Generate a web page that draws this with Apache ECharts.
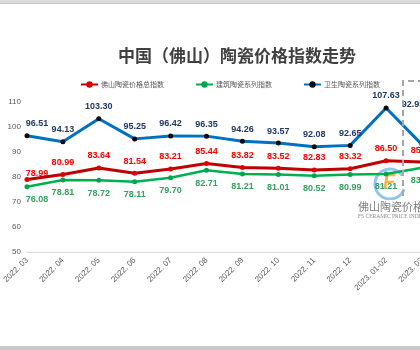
<!DOCTYPE html>
<html>
<head>
<meta charset="utf-8">
<script src="https://cdn.jsdelivr.net/npm/echarts@6/dist/echarts.min.js"></script>
<style>
html,body{margin:0;padding:0;background:#fff;overflow:hidden;width:420px;height:350px;}
#c{width:474px;height:350px;}
</style>
</head>
<body>
<div id="c"></div>
<script>
var categories = ['2022. 03','2022. 04','2022. 05','2022. 06','2022. 07','2022. 08','2022. 09','2022. 10','2022. 11','2022. 12','2023. 01-02','2023. 03'];
var totalIndex = [78.99, 80.99, 83.64, 81.54, 83.21, 85.44, 83.82, 83.52, 82.83, 83.32, 86.50, 85.98];
var buildingIndex = [76.08, 78.81, 78.72, 78.11, 79.70, 82.71, 81.21, 81.01, 80.52, 80.99, 81.21, 83.70];
var sanitaryIndex = [96.51, 94.13, 103.30, 95.25, 96.42, 96.35, 94.26, 93.57, 92.08, 92.65, 107.63, 92.95];
var yTicks = [50, 60, 70, 80, 90, 100, 110];
var seriesNames = ['佛山陶瓷价格总指数', '建筑陶瓷系列指数', '卫生陶瓷系列指数'];

var chart = echarts.init(document.getElementById('c'), null, {renderer: 'canvas'});
var W = 474;

function withOffsets(arr, offsets) {
  return arr.map(function (v, i) {
    if (offsets[i]) return {value: v, label: {offset: offsets[i]}};
    return v;
  });
}
var last = categories.length - 1;
var redOff = {0: [10, 6]};
var greenOff = {0: [10, 0]};
var blueOff = {0: [10, 0]};
blueOff[last] = [-9, -28];

function fmt(p) {
  var v = (typeof p.value === 'number') ? p.value : p.data.value;
  return v.toFixed(2);
}

var option = {
  backgroundColor: '#ffffff',
  animation: false,
  title: {
    text: '中国（佛山）陶瓷价格指数走势',
    left: 'center',
    top: 42,
    textStyle: {fontSize: 17, fontWeight: 'bold', color: '#404040', fontFamily: 'Noto Sans CJK SC'}
  },
  legend: {
    left: 75,
    top: 76,
    itemWidth: 17,
    itemHeight: 8,
    itemGap: 31,
    textStyle: {fontSize: 7, color: '#595959', fontFamily: 'Noto Sans CJK SC', padding: [0,0,0,-2]},
    data: seriesNames
  },
  grid: {left: 25, right: W - 422, top: 102, bottom: 98, containLabel: false},
  xAxis: {
    type: 'category',
    boundaryGap: false,
    data: categories,
    axisLine: {show: true, lineStyle: {color: '#d9d9d9', width: 1}},
    axisTick: {show: false},
    splitLine: {show: false},
    axisLabel: {rotate: 45, fontSize: 8, color: '#595959', margin: 7, interval: 0, fontFamily: 'Liberation Sans'}
  },
  yAxis: {
    type: 'value',
    min: yTicks[0],
    max: yTicks[yTicks.length - 1],
    interval: 10,
    axisLine: {show: false},
    axisTick: {show: false},
    splitLine: {show: false},
    axisLabel: {fontSize: 8, color: '#595959', margin: 6, fontFamily: 'Liberation Sans'}
  },
  series: [
    {
      name: seriesNames[0],
      type: 'line',
      data: withOffsets(totalIndex, redOff),
      symbol: 'circle',
      symbolSize: 5,
      itemStyle: {color: '#e00000'},
      lineStyle: {color: '#c00000', width: 3},
      label: {show: true, position: 'top', distance: 5, color: '#ff0000', fontSize: 9, fontWeight: 'bold', fontFamily: 'Liberation Sans', formatter: fmt},
      z: 3
    },
    {
      name: seriesNames[1],
      type: 'line',
      data: withOffsets(buildingIndex, greenOff),
      symbol: 'circle',
      symbolSize: 5,
      itemStyle: {color: '#00a550'},
      lineStyle: {color: '#00b050', width: 2.5},
      label: {show: true, position: 'bottom', distance: 6, color: '#36a060', fontSize: 9, fontWeight: 'bold', fontFamily: 'Liberation Sans', formatter: fmt},
      z: 2
    },
    {
      name: seriesNames[2],
      type: 'line',
      data: withOffsets(sanitaryIndex, blueOff),
      symbol: 'circle',
      symbolSize: 5,
      itemStyle: {color: '#0a0a0a'},
      lineStyle: {color: '#0070c0', width: 3},
      label: {show: true, position: 'top', distance: 5, color: '#203864', fontSize: 9, fontWeight: 'bold', fontFamily: 'Liberation Sans', formatter: fmt},
      z: 4
    }
  ],
  graphic: [
    {type: 'rect', shape: {x: 0, y: 0, width: W, height: 3}, style: {fill: '#dcdcdc'}, z: 100},
    {type: 'rect', shape: {x: 0, y: 3, width: W, height: 1}, style: {fill: '#c4c4c4'}, z: 100},
    {type: 'rect', shape: {x: 0, y: 346, width: W, height: 4}, style: {fill: '#c8c8c8'}, z: 100},
    {type: 'polyline', shape: {points: [[W, 81], [403, 81], [403, 212]]}, style: {stroke: '#a6a6a6', lineWidth: 2, lineDash: [6, 4], fill: null}, z: 50},
    {
      type: 'group', x: 390, y: 184, z: 60,
      children: [
        {type: 'arc', shape: {cx: 0, cy: 0, r: 15, startAngle: 0.35, endAngle: 5.7}, style: {stroke: '#6ab4e8', lineWidth: 3, fill: null, opacity: 0.75}},
        {type: 'text', x: -1, y: -2, style: {text: 'F', fill: '#f5a020', font: 'italic bold 20px Liberation Sans', align: 'center', verticalAlign: 'middle', opacity: 0.8}}
      ]
    },
    {type: 'rect', shape: {x: 356, y: 200, width: 120, height: 22}, style: {fill: '#ffffff', opacity: 0.9}, z: 60},
    {type: 'text', x: 358, y: 207, style: {text: '佛山陶瓷价格指数', fill: '#7f7f7f', font: '11px Noto Sans CJK SC', verticalAlign: 'middle'}, z: 61},
    {type: 'text', x: 358, y: 217, style: {text: 'FS CERAMIC PRICE INDEX', fill: '#8a8a8a', font: '5.5px Liberation Serif', verticalAlign: 'middle'}, z: 61}
  ]
};
chart.setOption(option);
</script>
</body>
</html>
